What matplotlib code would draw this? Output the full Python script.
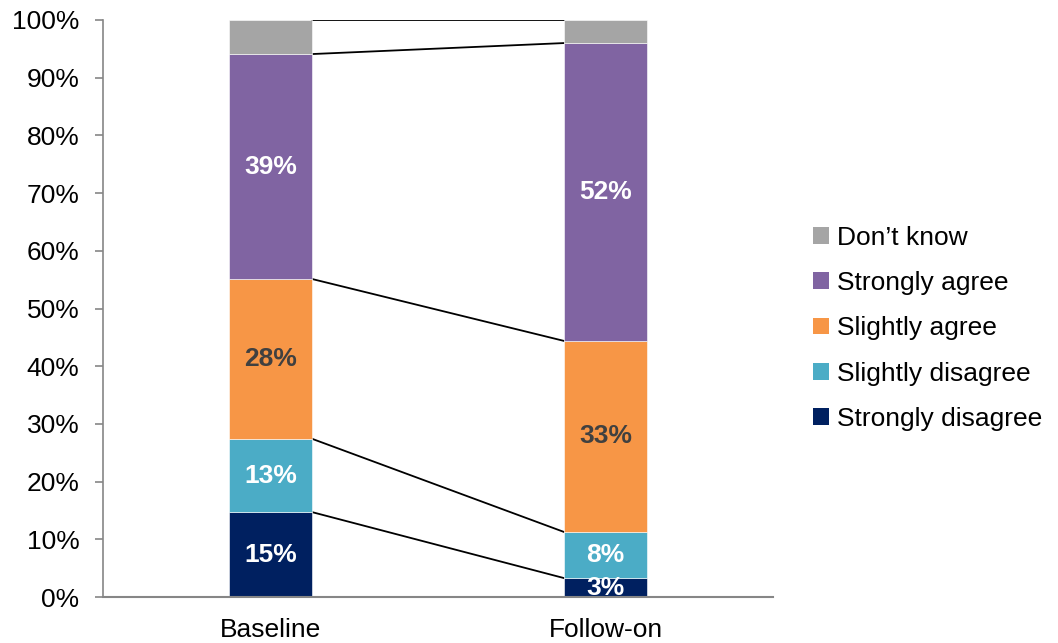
import matplotlib
matplotlib.use("Agg")
import matplotlib.pyplot as plt
import numpy as np
from matplotlib.patches import Patch

plt.rcParams['font.family'] = ['Liberation Sans', 'DejaVu Sans']

categories = ["Baseline", "Follow-on"]
series = ["Strongly disagree", "Slightly disagree", "Slightly agree", "Strongly agree", "Don\u2019t know"]
strongly_disagree = [14.7, 3.3]
slightly_disagree = [12.7, 8.0]
slightly_agree = [27.7, 33.1]
strongly_agree = [39.0, 51.6]
dont_know = [5.9, 4.0]
labels = [["15%", "3%"], ["13%", "8%"], ["28%", "33%"], ["39%", "52%"], [None, None]]

values = [strongly_disagree, slightly_disagree, slightly_agree, strongly_agree, dont_know]
colors = ["#002060", "#4BACC6", "#F79646", "#8064A2", "#A5A5A5"]
label_colors = ["white", "white", "#404040", "white", "white"]

fig = plt.figure(figsize=(10.58, 6.43), dpi=100)
ax = fig.add_axes([0.0974, 0.0715, 0.6332, 0.8974])

x = np.arange(len(categories))
width = 0.25
bottom = np.zeros(len(categories))
bounds = [bottom.copy()]
for vals, col, labs, lc in zip(values, colors, labels, label_colors):
    v = np.array(vals)
    ax.bar(x, v, width, bottom=bottom, color=col, edgecolor="white", linewidth=0.4, zorder=2)
    for i in range(len(categories)):
        if labs[i]:
            ax.text(x[i], bottom[i] + v[i] / 2, labs[i], ha="center", va="center",
                    color=lc, fontsize=19, fontweight="bold", zorder=3)
    bottom = bottom + v
    bounds.append(bottom.copy())

# connector lines between stacked boundaries
for b in bounds[1:]:
    ax.plot([x[0] + width / 2, x[1] - width / 2], [b[0], b[1]], color="black", lw=1.3, zorder=1)

ax.set_xlim(-0.5, 1.5)
ax.set_ylim(0, 100)
ax.set_yticks(np.arange(0, 101, 10))
ax.set_yticklabels([f"{t}%" for t in range(0, 101, 10)], fontsize=19)
ax.set_xticks(x)
ax.set_xticklabels(categories, fontsize=19)
ax.tick_params(axis="x", length=0, pad=15)
ax.tick_params(axis="y", length=6, color="#868686", width=1.2, pad=11)
for s in ["top", "right"]:
    ax.spines[s].set_visible(False)
ax.spines["left"].set_color("#868686")
ax.spines["bottom"].set_color("#868686")
ax.spines["left"].set_linewidth(1.2)
ax.spines["bottom"].set_linewidth(1.5)

handles = [Patch(facecolor=c) for c in colors][::-1]
fig.legend(handles, series[::-1], loc="center left", bbox_to_anchor=(0.746, 0.4895),
           frameon=False, fontsize=19, handlelength=0.6, handleheight=0.6,
           handletextpad=0.3, labelspacing=0.81)

fig.savefig("out.png", dpi=100)
